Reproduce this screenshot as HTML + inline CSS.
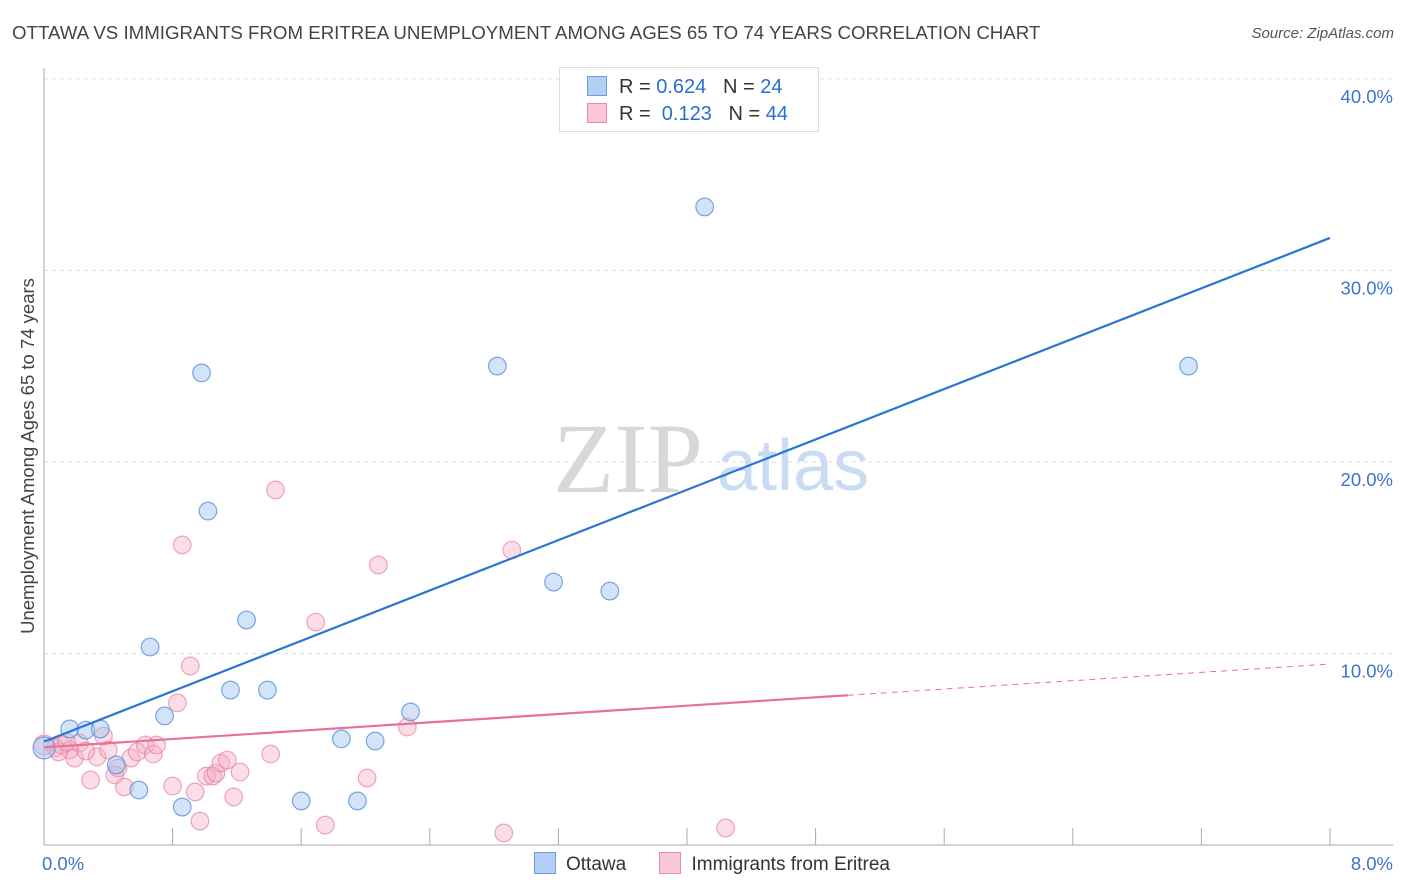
<!DOCTYPE html>
<html><head><meta charset="utf-8">
<style>
body{margin:0;background:#fff;font-family:"Liberation Sans",sans-serif;}
#wrap{position:relative;width:1406px;height:892px;overflow:hidden;}
.t{position:absolute;white-space:nowrap;}
</style></head>
<body>
<div id="wrap">
<div class="t" style="left:12px;top:22px;font-size:18.7px;color:#444;">OTTAWA VS IMMIGRANTS FROM ERITREA UNEMPLOYMENT AMONG AGES 65 TO 74 YEARS CORRELATION CHART</div>
<div class="t" style="right:12px;top:25px;font-size:15px;color:#555;font-style:italic;">Source: ZipAtlas.com</div>
<svg id="svg" width="1406" height="892" style="position:absolute;left:0;top:0"></svg>
</div>
<script>
const xTicks=[0,0.8,1.6,2.4,3.2,4.0,4.8,5.6,6.4,7.2,8.0];
const yTicks=[10,20,30,40];
const yTickLabels=["10.0%","20.0%","30.0%","40.0%"];
const xLabels=["0.0%","8.0%"];
const ottX=[0,0.16,0.26,0.35,0.45,0.59,0.66,0.75,0.86,0.98,1.02,1.16,1.26,1.39,1.60,1.85,1.95,2.06,2.28,2.82,3.17,3.52,4.11,7.12];
const ottY=[5.07,6.06,6.0,6.06,4.18,2.87,10.34,6.74,1.98,24.65,17.44,8.09,11.75,8.09,2.30,5.54,2.30,5.43,6.95,25.01,13.73,13.26,33.32,25.01];
const eriX=[0,0.07,0.11,0.16,0.22,0.19,0.29,0.33,0.37,0.40,0.44,0.46,0.50,0.54,0.58,0.63,0.68,0.70,0.80,0.83,0.86,0.91,0.94,0.97,1.01,1.05,1.07,1.10,1.14,1.18,1.22,1.41,1.44,1.69,1.75,2.01,2.08,2.26,2.86,2.91,4.24,0.09,0.14,0.26];
const eriY=[5.22,5.07,5.22,4.96,5.33,4.54,3.39,4.60,5.69,4.96,3.66,4.02,3.03,4.54,4.86,5.22,4.75,5.22,3.08,7.42,15.67,9.35,2.77,1.25,3.60,3.60,3.76,4.28,4.44,2.51,3.81,4.75,18.54,11.64,1.04,3.50,14.62,6.16,0.63,15.40,0.89,4.86,5.38,4.91];
const ottLine=[5.4,31.7];
const eriLine=[5.1,9.45];
const eriSolidEnd=5.0;

const X=v=>44+v*160.75, Y=v=>845-v*19.15;
const svg=document.getElementById('svg');const NS='http://www.w3.org/2000/svg';
function mk(tag,a){const e=document.createElementNS(NS,tag);for(const k in a)e.setAttribute(k,a[k]);svg.appendChild(e);return e;}
let w=mk('text',{x:553,y:492,'font-size':100,fill:'#d8d8d8','font-family':'Liberation Serif'});w.textContent='ZIP';


let w2=mk('text',{x:717,y:490,'font-size':72,fill:'#c9dcf3','font-family':'Liberation Sans'});w2.textContent='atlas';


yTicks.forEach((v,i)=>{
 let g=mk('line',{x1:44,x2:1393,y1:Y(v),y2:Y(v),stroke:'#ddd','stroke-dasharray':'4,4'});
 
 
 let t=mk('text',{x:1393,y:Y(v)+24,'text-anchor':'end','font-size':18.5,fill:'#3d74d0'});t.textContent=yTickLabels[i];
 
 
});
let ax=mk('line',{x1:44,x2:44,y1:68,y2:845,stroke:'#aaa'});


let bx=mk('line',{x1:44,x2:1393,y1:845,y2:845,stroke:'#aaa'});


xTicks.forEach(v=>{let l=mk('line',{x1:X(v),x2:X(v),y1:828,y2:845,stroke:'#aaa'});
 
 });
[[xLabels[0],X(0)-2,'start'],[xLabels[1],1393,'end']].forEach(([s,x,a])=>{let t=mk('text',{x:x,y:870,'text-anchor':a,'font-size':18.5,fill:'#3d74d0'});t.textContent=s;
 
 });
let yt=mk('text',{x:34,y:456,'text-anchor':'middle','font-size':18.5,fill:'#444',transform:'rotate(-90 34 456)'});yt.textContent='Unemployment Among Ages 65 to 74 years';


eriX.forEach((x,i)=>{let c=mk('circle',{cx:X(x),cy:Y(eriY[i]),r:i==0?10:8.8,fill:'rgba(244,170,195,0.4)',stroke:'rgba(232,130,165,0.7)','stroke-width':1.2});
 
 });
ottX.forEach((x,i)=>{let c=mk('circle',{cx:X(x),cy:Y(ottY[i]),r:i==0?11:8.8,fill:'rgba(160,195,240,0.45)',stroke:'rgba(90,145,220,0.8)','stroke-width':1.2});
 
 });
let bl=mk('line',{x1:X(0),y1:Y(ottLine[0]),x2:X(8),y2:Y(ottLine[1]),stroke:'#2a74d6','stroke-width':2.2});


const eAt=v=>eriLine[0]+(eriLine[1]-eriLine[0])*v/8;
let pl=mk('line',{x1:X(0),y1:Y(eriLine[0]),x2:X(eriSolidEnd),y2:Y(eAt(eriSolidEnd)),stroke:'#e8709a','stroke-width':2.2});


let pd=mk('line',{x1:X(eriSolidEnd),y1:Y(eAt(eriSolidEnd)),x2:X(8),y2:Y(eriLine[1]),stroke:'#e8709a','stroke-width':1,'stroke-dasharray':'6,5'});


</script>
<div class="t" style="left:559px;top:67px;width:258px;height:63px;border:1px solid #ddd;background:#fff;font-size:20px;color:#333;">
 <div style="position:absolute;left:27px;top:8px;"><span style="display:inline-block;width:18px;height:18px;background:#b3cff4;border:1px solid #6a9ee0;vertical-align:-3px;margin-right:12px;"></span>R = <span style="color:#2a6fd0">0.624</span>&nbsp;&nbsp;&nbsp;N = <span style="color:#2a6fd0">24</span></div>
 <div style="position:absolute;left:27px;top:35px;"><span style="display:inline-block;width:18px;height:18px;background:#f8c6d6;border:1px solid #e88aa8;vertical-align:-3px;margin-right:12px;"></span>R =&nbsp; <span style="color:#2a6fd0">0.123</span>&nbsp;&nbsp;&nbsp;N = <span style="color:#2a6fd0">44</span></div>
</div>
<div class="t" style="left:534px;top:852px;font-size:19px;color:#333;">
 <span><span style="display:inline-block;width:20px;height:20px;background:#b3cff4;border:1px solid #6a9ee0;vertical-align:-4px;margin-right:10px;"></span>Ottawa</span>
 <span style="margin-left:28px;"><span style="display:inline-block;width:20px;height:20px;background:#f8c6d6;border:1px solid #e88aa8;vertical-align:-4px;margin-right:10px;"></span>Immigrants from Eritrea</span>
</div>
</body></html>
